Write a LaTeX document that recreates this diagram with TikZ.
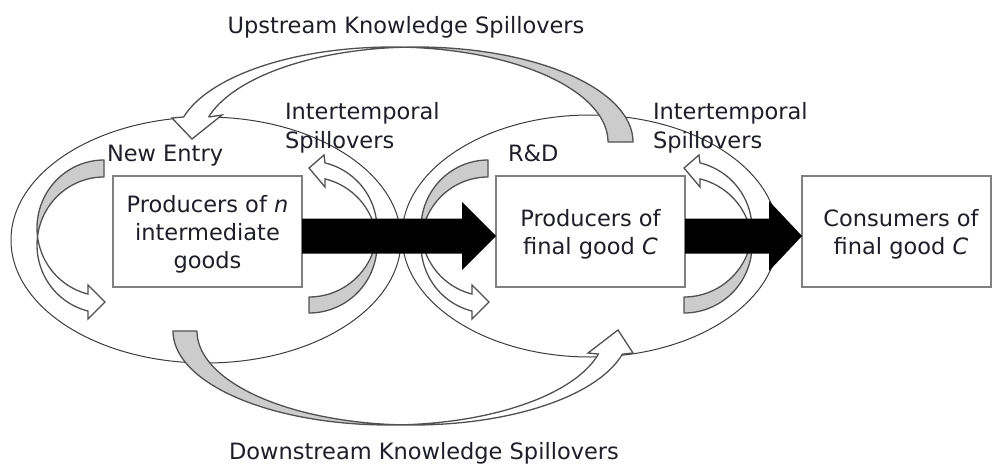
\documentclass[tikz,border=0pt]{standalone}
\usepackage{fontspec}
\setmainfont{DejaVu Sans}
\usetikzlibrary{calc}

\definecolor{inkline}{HTML}{3C3C3C}
\definecolor{bandedge}{HTML}{505050}
\definecolor{bandgray}{HTML}{CCCCCC}
\definecolor{boxedge}{HTML}{808080}
\definecolor{txt}{HTML}{1E1E28}

% centred lines inside a box, nudged slightly below the geometric centre
\newcommand\boxlines[2][0pt]{\raisebox{-3.5pt}[\height][\depth]{\begin{tabular}{@{\hspace{#1}}c@{}}#2\end{tabular}}}
% two left-aligned lines, baseline on the first one
\newcommand\twolines[2]{{\renewcommand\arraystretch{1.04}\begin{tabular}[t]{@{}l@{}}#1\\#2\end{tabular}}}

\begin{document}
\begin{tikzpicture}[x=1pt,y=-1pt,
  every node/.style={font=\fontsize{22.5}{28}\selectfont, text=txt},
  stage/.style={draw=boxedge, line width=1.2pt, fill=white,
    minimum width=189pt, minimum height=111pt, inner sep=0pt, outer sep=0pt},
  sector/.style={draw=inkline, line width=1pt},
  back/.style={fill=bandgray, draw=bandedge, line width=1.3pt, line join=round},
  front/.style={fill=white, draw=bandedge, line width=1.3pt, line join=miter},
  flow/.style={fill=black},
  lbl/.style={inner sep=0pt, outer sep=0pt}
]
\useasboundingbox (0,0) rectangle (993,466);

% the two sectors
\draw[sector] (206,240) ellipse [x radius=195, y radius=123];
\draw[sector] (590,236) ellipse [x radius=188, y radius=121];

% upstream spillover band (right tail, left head)
\filldraw[back]
  plot[domain=266.7:360, samples=60, variable=\t] ({417+216*cos(\t)},{142+95*sin(\t)})
  -- plot[domain=360:273.3, samples=60, variable=\t] ({392+216*cos(\t)},{142+95*sin(\t)})
  -- cycle;
\filldraw[front] (208.6,117) -- (222,115) -- (192,139) -- (172,118) -- (183.6,117)
  -- plot[domain=195.26:273.3, samples=60, variable=\t] ({392+216*cos(\t)},{142+95*sin(\t)})
  -- plot[domain=266.7:195.26, samples=60, variable=\t] ({417+216*cos(\t)},{142+95*sin(\t)})
  -- cycle;

% downstream spillover band (left tail, right head)
\filldraw[back]
  plot[domain=180:86.8, samples=60, variable=\t] ({389+216*cos(\t)},{331+94*sin(\t)})
  -- plot[domain=93.2:180, samples=60, variable=\t] ({413+216*cos(\t)},{331+94*sin(\t)})
  -- cycle;
\filldraw[front]
  plot[domain=93.2:14.2, samples=60, variable=\t] ({413+216*cos(\t)},{331+94*sin(\t)})
  -- (633,353) -- (618,330) -- (588,353)
  -- plot[domain=14.2:86.8, samples=60, variable=\t] ({389+216*cos(\t)},{331+94*sin(\t)})
  -- cycle;

% entry / R&D loops on the left side of each sector
\foreach \dx in {0,384}{
  \begin{scope}[shift={(\dx,0)}]
    \filldraw[back]
      plot[domain=270:172.8, samples=40, variable=\t] ({104+67*cos(\t)},{228+68*sin(\t)})
      -- plot[domain=187.2:270, samples=40, variable=\t] ({104+67*cos(\t)},{245+68*sin(\t)})
      -- cycle;
    \filldraw[front]
      plot[domain=187.2:103.8, samples=40, variable=\t] ({104+67*cos(\t)},{245+68*sin(\t)})
      -- (88,319) -- (105,302) -- (88,285)
      -- plot[domain=103.8:172.8, samples=40, variable=\t] ({104+67*cos(\t)},{228+68*sin(\t)})
      -- cycle;
  \end{scope}
}

% intertemporal loops on the right side of each sector
\foreach \dx in {0,375}{
  \begin{scope}[shift={(\dx,0)}]
    \filldraw[back]
      plot[domain=90:-6.76, samples=40, variable=\t] ({309+68*cos(\t)},{245+68*sin(\t)})
      -- plot[domain=6.76:90, samples=40, variable=\t] ({309+68*cos(\t)},{229+68*sin(\t)})
      -- cycle;
    \filldraw[front]
      plot[domain=6.76:-76.4, samples=40, variable=\t] ({309+68*cos(\t)},{229+68*sin(\t)})
      -- (324,155) -- (309,168) -- (325,187)
      -- plot[domain=-76.4:-6.76, samples=40, variable=\t] ({309+68*cos(\t)},{245+68*sin(\t)})
      -- cycle;
  \end{scope}
}

% the three stages
\node[stage] (inter) at (207.5,231.5) {\boxlines{Producers of \textit{n}\\intermediate\\goods}};
\node[stage] (final) at (590.5,231.5) {\boxlines{Producers of\\final good \textit{C}}};
\node[stage] (cons)  at (896.5,231.5) {\boxlines[9pt]{Consumers of\\final good \textit{C}}};

% block arrows between the stages
\coordinate (f1s) at ($(inter.east)+(0,4.5)$);
\coordinate (f1e) at ($(final.west)+(0,4.5)$);
\coordinate (f2s) at ($(final.east)+(0,4.5)$);
\coordinate (f2e) at ($(cons.west)+(0,4.5)$);
\fill[flow] ($(f1s)+(0,-17.5)$) -- ($(f1e)+(-34,-17.5)$) -- ($(f1e)+(-34,-34)$) -- (f1e)
  -- ($(f1e)+(-34,34)$) -- ($(f1e)+(-34,17.5)$) -- ($(f1s)+(0,17.5)$) -- cycle;
\fill[flow] ($(f2s)+(0,-17.5)$) -- ($(f2e)+(-33,-17.5)$) -- ($(f2e)+(-33,-35)$) -- (f2e)
  -- ($(f2e)+(-33,35)$) -- ($(f2e)+(-33,17.5)$) -- ($(f2s)+(0,17.5)$) -- cycle;

% labels
\node[lbl, anchor=base] (upstream) at (406,33) {Upstream Knowledge Spillovers};
\node[lbl, anchor=base] (downstream) at (424,459) {Downstream Knowledge Spillovers};
\node[lbl, anchor=base west] (itA) at (285,119) {\twolines{Intertemporal}{Spillovers}};
\node[lbl, anchor=base west] (itB) at (653,119) {\twolines{Intertemporal}{Spillovers}};
\node[lbl, anchor=base west] (entry) at (107,161) {New Entry};
\node[lbl, anchor=base west] (rnd) at (508,161) {R\&D};
\end{tikzpicture}
\end{document}
